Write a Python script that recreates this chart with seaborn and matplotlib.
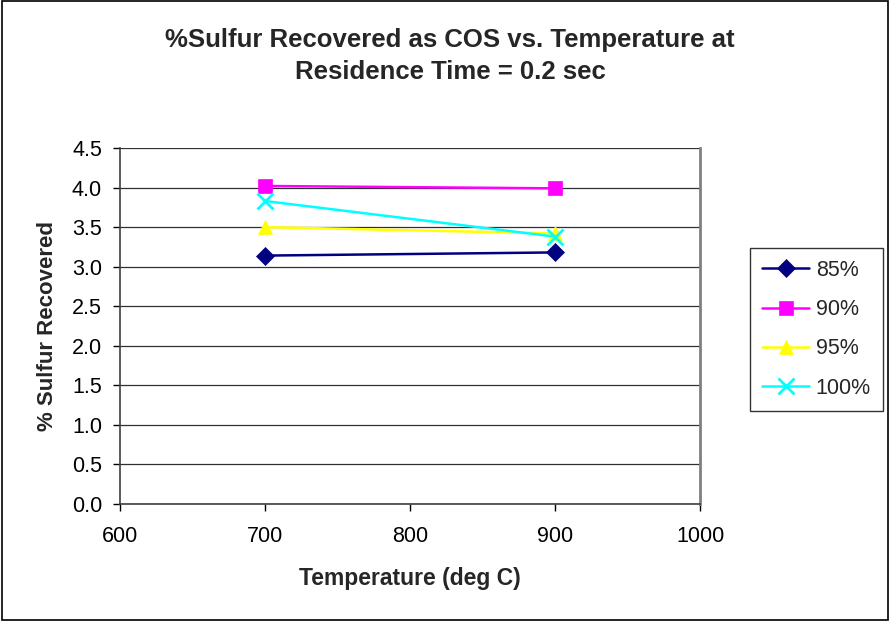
import matplotlib
matplotlib.use("Agg")
import matplotlib.pyplot as plt
import seaborn as sns
import pandas as pd
from matplotlib.patches import Rectangle

temps = [700, 900]
series_names = ["85%", "90%", "95%", "100%"]
s85 = [3.14, 3.18]
s90 = [4.02, 3.99]
s95 = [3.50, 3.42]
s100 = [3.83, 3.38]

colors = {"85%": "#000080", "90%": "#FF00FF", "95%": "#FFFF00", "100%": "#00FFFF"}
markers = {"85%": "D", "90%": "s", "95%": "^", "100%": "x"}

rows = []
for name, vals in zip(series_names, [s85, s90, s95, s100]):
    for t, v in zip(temps, vals):
        rows.append({"Temperature": t, "Value": v, "Series": name})
df = pd.DataFrame(rows)

sns.set_theme(style="white")
plt.rcParams['font.family'] = ['Liberation Sans', 'DejaVu Sans']

fig = plt.figure(figsize=(8.9, 6.21), dpi=100)
ax = fig.add_axes([120/890, 1-504/621, 580/890, 356/621])

ax.yaxis.grid(True, color="#303030", linewidth=0.9)
ax.set_axisbelow(True)

for name in series_names:
    sub = df[df.Series == name]
    m = markers[name]
    sns.lineplot(data=sub, x="Temperature", y="Value", ax=ax, color=colors[name],
                 marker=m, markersize=(11 if m == "x" else (9 if m == "D" else 10)),
                 markeredgewidth=(2 if m == "x" else 0.5),
                 markeredgecolor=colors[name], linewidth=1.8, label=name)

ax.set_xlim(600, 1000)
ax.set_ylim(0, 4.5)
ax.set_xticks([600, 700, 800, 900, 1000])
ax.set_yticks([i * 0.5 for i in range(10)])
ax.set_yticklabels([f"{i*0.5:.1f}" for i in range(10)])
ax.tick_params(axis="both", labelsize=15.5, colors="black", direction="out", length=5, width=1,
               bottom=True, left=True)
ax.tick_params(axis="x", pad=11)
ax.tick_params(axis="y", pad=8)

for side in ["left", "bottom"]:
    ax.spines[side].set_color("#404040")
    ax.spines[side].set_linewidth(1.2)
ax.spines["right"].set_color("#808080")
ax.spines["right"].set_linewidth(2)
ax.spines["top"].set_visible(False)

ax.set_xlabel("Temperature (deg C)", fontsize=16.5, fontweight="bold", labelpad=14)
ax.set_ylabel("% Sulfur Recovered", fontsize=16, fontweight="bold", labelpad=10)

fig.text(450/890, 1-56/621, "%Sulfur Recovered as COS vs. Temperature at\nResidence Time = 0.2 sec",
         ha="center", va="center", fontsize=18.5, fontweight="bold", linespacing=1.4)

leg = ax.legend(loc="upper left", bbox_to_anchor=(750/890, 1-248/621), bbox_transform=fig.transFigure,
                borderaxespad=0, fontsize=15.5, frameon=True, fancybox=False, edgecolor="black",
                borderpad=0.55, labelspacing=0.85, handlelength=2.2, handletextpad=0.3)
leg.get_frame().set_linewidth(1.0)

fig.patches.append(Rectangle((0.002, 0.002), 0.996, 0.996, transform=fig.transFigure,
                             fill=False, edgecolor="black", linewidth=1.2))

fig.savefig("out.png", dpi=100)
